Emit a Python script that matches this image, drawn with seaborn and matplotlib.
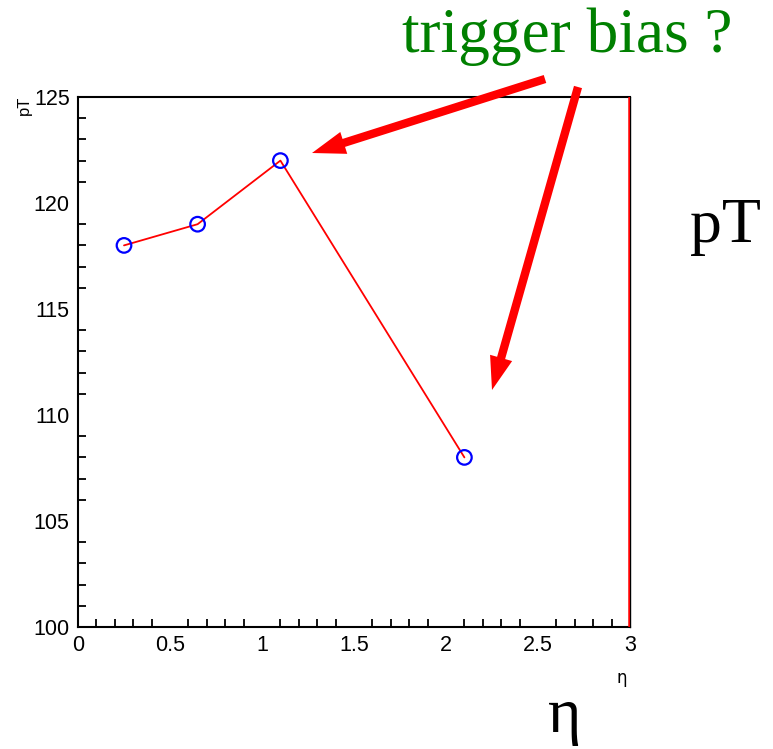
import matplotlib
matplotlib.use("Agg")
import matplotlib.pyplot as plt
from matplotlib.patches import FancyArrowPatch
from matplotlib.ticker import MultipleLocator
import seaborn as sns
import pandas as pd

# mean pT per eta bin
eta = [0.25, 0.65, 1.1, 2.1]
pt = [118, 119, 122, 108]
x_ticks = [0, 0.5, 1, 1.5, 2, 2.5, 3]
x_tick_labels = ["0", "0.5", "1", "1.5", "2", "2.5", "3"]
y_ticks = [100, 105, 110, 115, 120, 125]
y_tick_labels = ["100", "105", "110", "115", "120", "125"]

df = pd.DataFrame({"eta": eta, "pt": pt})

sns.set_theme(style="white")
plt.rcParams["font.family"] = ["Liberation Sans", "DejaVu Sans"]

W, H = 773, 749
fig = plt.figure(figsize=(W / 100, H / 100), dpi=100)
ax = fig.add_axes([78 / W, 1 - 627 / H, (630 - 78) / W, (627 - 97) / H])

sns.lineplot(data=df, x="eta", y="pt", color="red", lw=1.3, ax=ax, zorder=2)
sns.scatterplot(data=df, x="eta", y="pt", marker="o", s=110, facecolor="none",
                edgecolor="blue", linewidth=1.6, ax=ax, zorder=3)

ax.set_xlim(0, 3)
ax.set_ylim(100, 125)
ax.set_xticks(x_ticks)
ax.set_xticklabels(x_tick_labels)
ax.set_yticks(y_ticks)
ax.set_yticklabels(y_tick_labels)
ax.xaxis.set_minor_locator(MultipleLocator(0.1))
ax.yaxis.set_minor_locator(MultipleLocator(1))
ax.tick_params(which="major", direction="in", length=12, width=1.3, colors="black",
               labelsize=15.5, pad=6, top=False, right=False)
ax.tick_params(which="minor", direction="in", length=6, width=1.3, colors="black",
               top=False, right=False, left=True, bottom=True)
ax.set_xlabel("")
ax.set_ylabel("")

for side in ["left", "bottom", "top"]:
    ax.spines[side].set_color("black")
    ax.spines[side].set_linewidth(1.5)
ax.spines["right"].set_color("black")
ax.spines["right"].set_linewidth(1.0)
ax.axvline(2.996, color="red", lw=1.8, zorder=4)

# axis titles
fig.text(24 / W, 1 - 96 / H, "pT", rotation=90, ha="center", va="top", fontsize=12,
         color="black")
fig.text(622 / W, 1 - 678 / H, "η", ha="center", va="center", fontsize=12,
         family=["DejaVu Sans"], color="black")

# annotations
serif = ["Liberation Serif", "DejaVu Serif"]
fig.text(402 / W, 1 - 52 / H, "trigger bias ?", ha="left", va="baseline",
         fontsize=45.5, color="green", family=serif)
fig.text(690 / W, 1 - 242 / H, "pT", ha="left", va="baseline",
         fontsize=46, color="black", family=serif)
fig.text(565 / W, 1 - 732 / H, "η", ha="center", va="baseline",
         fontsize=46, color="black", family=serif)

for tail, head in [((545, 79), (312, 153)), ((578, 87), (492, 390))]:
    arrow = FancyArrowPatch(
        (tail[0] / W, 1 - tail[1] / H), (head[0] / W, 1 - head[1] / H),
        transform=fig.transFigure,
        arrowstyle="simple,head_length=24,head_width=16.5,tail_width=6",
        mutation_scale=1, color="red", lw=0, shrinkA=0, shrinkB=0, zorder=10)
    fig.add_artist(arrow)

fig.savefig("out.png", dpi=100, facecolor="white")
